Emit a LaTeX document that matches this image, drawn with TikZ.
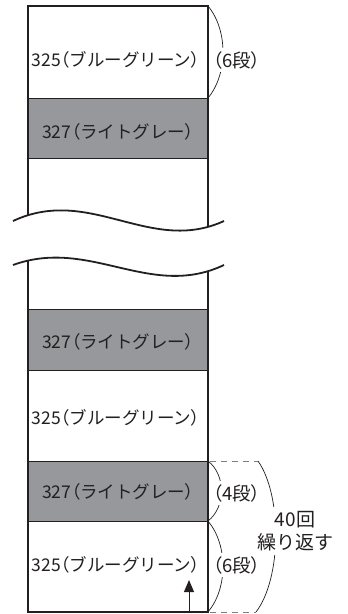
\documentclass[tikz,border=0pt]{standalone}
\usepackage{fontspec}
\setmainfont{Noto Sans CJK JP}
\newfontfamily\tightfont{Noto Sans CJK JP}[RawFeature=+palt]
\usetikzlibrary{
  intersections,
  arrows.meta,
}
\definecolor{rowgray}{HTML}{97989C}
\definecolor{ink}{HTML}{231F20}
\definecolor{dashgray}{HTML}{7F7F7F}
\newcommand\lpar{{\tightfont （}}
\newcommand\rpar{{\tightfont ）}}

\begin{document}
\begin{tikzpicture}[x=1pt,y=-1pt,
  rowtext/.style={font=\fontsize{17.5}{20}\selectfont, text=ink, inner sep=0pt},
  countlabel/.style={font=\fontsize{18.5}{20}\selectfont, text=ink, fill=white, inner xsep=0.5pt, inner ysep=3.5pt},
  repeatlabel/.style={font=\fontsize{19}{23}\selectfont, text=ink, fill=white, inner xsep=1pt, inner ysep=4pt, align=center},
  side/.style={line width=1.8pt, ink},
  sep/.style={line width=1pt, ink},
  bracket/.style={line width=0.7pt, ink},
  guide/.style={line width=0.8pt, dashgray, dash pattern=on 6pt off 5pt},
]
\useasboundingbox (0,0) rectangle (348,614);
\coordinate (tl) at (28,6);
\coordinate (tr) at (208,6);
\coordinate (bl) at (28,612);
\coordinate (br) at (208,612);
\coordinate (g1) at (208,98);
\coordinate (g3) at (208,461);
\coordinate (g4) at (208,521);
\coordinate (d1) at (258,461);
\coordinate (d2) at (256,612);
\coordinate (up) at (189,580);
\coordinate (foot) at (189,612);

\fill[rowgray] (28,98) rectangle (208,158);
\fill[rowgray] (28,309) rectangle (208,370);
\fill[rowgray] (28,461) rectangle (208,521);
\foreach \y in {98,158,309,370,461,521}
  \draw[sep] (28,\y) -- (208,\y);

\path[name path=cutA] (13,221) .. controls (90,185) and (150,255) .. (224,221);
\path[name path=cutB] (13,265) .. controls (90,237) and (150,300) .. (224,265);
\path[name path=sideL] (tl) -- (bl);
\path[name path=sideR] (tr) -- (br);
\path[name intersections={of=cutA and sideL, by=aL}];
\path[name intersections={of=cutA and sideR, by=aR}];
\path[name intersections={of=cutB and sideL, by=bL}];
\path[name intersections={of=cutB and sideR, by=bR}];

\draw[side] (aL) -- (tl) -- (tr) -- (aR);
\draw[side] (bL) -- (bl) -- (br) -- (bR);
\draw[line width=2.6pt, ink] (bl) -- (br);
\draw[side] (13,221) .. controls (90,185) and (150,255) .. (224,221);
\draw[side] (13,265) .. controls (90,237) and (150,300) .. (224,265);

\node[rowtext] (blueA) at (116,60) {325\lpar ブルーグリーン\rpar};
\node[rowtext] (grayA) at (118,132) {327\lpar ライトグレー\rpar};
\node[rowtext] (grayB) at (118,342) {327\lpar ライトグレー\rpar};
\node[rowtext] (blueB) at (116,418) {325\lpar ブルーグリーン\rpar};
\node[rowtext] (grayC) at (118,492) {327\lpar ライトグレー\rpar};
\node[rowtext] (blueC) at (116,565) {325\lpar ブルーグリーン\rpar};

\draw[guide] ([xshift=2pt]g3) -- (d1);
\draw[guide] ([xshift=2pt]br) -- (d2);
\draw[bracket] (tr) .. controls (228,30) and (228,74) .. (g1);
\draw[bracket] (g3) .. controls (226,475) and (226,507) .. (g4);
\draw[bracket] (g4) .. controls (228,545) and (228,588) .. (br);
\draw[bracket] (d1) .. controls (282,495) and (282,578) .. (d2);

\node[countlabel] (sixA) at (236.5,60) {\lpar 6段\rpar};
\node[countlabel] (four) at (236.5,493) {\lpar 4段\rpar};
\node[countlabel] (sixB) at (236.5,565) {\lpar 6段\rpar};
\node[repeatlabel] (repeat) at (295,531) {40回\\繰り返す};

\draw[line width=1pt, ink, -{Triangle[length=12pt,width=10pt]}] (foot) -- (up);
\end{tikzpicture}
\end{document}
